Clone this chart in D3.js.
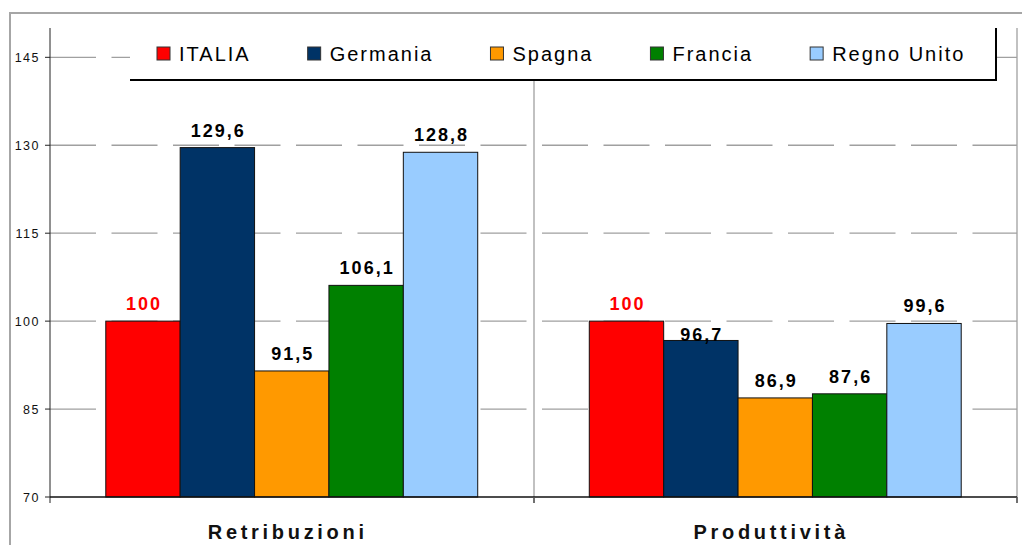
<!DOCTYPE html>
<html>
  <head>
    <meta charset="utf-8">
    <script src="https://d3js.org/d3.v7.min.js"></script>
    <style>
      body { margin: 0; background: #fff; }
      text { font-family: "Liberation Sans", Arial, sans-serif; }
    </style>
  </head>
  <body>
    <div id="chart"></div>
  <script>
    // Data
    var categories = ["Retribuzioni", "Produttività"];
    var series = ["ITALIA", "Germania", "Spagna", "Francia", "Regno Unito"];
    var colors = ["#ff0000", "#003366", "#ff9900", "#008000", "#99ccff"];
    var retribuzioni = [100, 129.6, 91.5, 106.1, 128.8];
    var produttivita = [100, 96.7, 86.9, 87.6, 99.6];
    var yTicks = [70, 85, 100, 115, 130, 145];

    var values = [retribuzioni, produttivita];

    var W = 1022, H = 545;
    var plot = {left: 50, right: 1017, top: 28, bottom: 497};

    var svg = d3.select("#chart")
                .append("svg")
                  .attr("width", W)
                  .attr("height", H);

    // outer frame
    svg.append("path")
       .attr("d", "M10," + H + "V13H" + W)
       .attr("fill", "none")
       .attr("stroke", "#a6a6a6")
       .attr("stroke-width", 2);

    var x0 = d3.scaleBand()
               .domain(categories)
               .range([plot.left, plot.right]);

    var x1 = d3.scaleBand()
               .domain(series)
               .range([0, x0.bandwidth()])
               .paddingInner(0)
               .paddingOuter(0.75);

    var y = d3.scaleLinear()
              .domain([70, 150])
              .range([plot.bottom, plot.top]);

    // horizontal dashed gridlines
    svg.append("g")
       .selectAll("line")
       .data(yTicks.slice(1))
       .enter()
       .append("line")
         .attr("x1", plot.left)
         .attr("x2", plot.right)
         .attr("y1", function(d) { return y(d); })
         .attr("y2", function(d) { return y(d); })
         .attr("stroke", "#a0a0a0")
         .attr("stroke-width", 1.3)
         .attr("stroke-dasharray", "46,15.5");

    // vertical category separators + right border
    svg.append("g")
       .selectAll("line")
       .data(categories)
       .enter()
       .append("line")
         .attr("x1", function(d) { return Math.round(x0(d) + x0.bandwidth()); })
         .attr("x2", function(d) { return Math.round(x0(d) + x0.bandwidth()); })
         .attr("y1", plot.top)
         .attr("y2", plot.bottom + 6)
         .attr("stroke", "#a0a0a0")
         .attr("stroke-width", 1.3);

    // bars
    var groups = svg.append("g")
                    .selectAll("g")
                    .data(categories)
                    .enter()
                    .append("g")
                      .attr("transform", function(d) { return "translate(" + x0(d) + ",0)"; });

    groups.selectAll("rect")
          .data(function(d, i) {
            return series.map(function(s, j) { return {cat: d, key: s, value: values[i][j], color: colors[j]}; });
          })
          .enter()
          .append("rect")
            .attr("x", function(d) { return x1(d.key); })
            .attr("width", x1.bandwidth())
            .attr("y", function(d) { return y(d.value); })
            .attr("height", function(d) { return y(70) - y(d.value); })
            .attr("fill", function(d) { return d.color; })
            .attr("stroke", "#111")
            .attr("stroke-width", 1);

    // value labels (the Germania one in Produttività sits lower in the original)
    var labelShift = {"Produttività|Germania": 12};
    groups.selectAll("text")
          .data(function(d, i) {
            return series.map(function(s, j) { return {cat: d, key: s, value: values[i][j]}; });
          })
          .enter()
          .append("text")
            .attr("x", function(d) { return x1(d.key) + x1.bandwidth() / 2 + 1; })
            .attr("y", function(d) { return y(d.value) - 11 + (labelShift[d.cat + "|" + d.key] || 0); })
            .attr("text-anchor", "middle")
            .style("font-size", "18px")
            .style("font-weight", "bold")
            .style("letter-spacing", "2px")
            .attr("fill", function(d) { return d.key === "ITALIA" ? "#ff0000" : "#000"; })
            .text(function(d) { return String(d.value).replace(".", ","); });

    // y axis
    var yAxis = svg.append("g");
    yAxis.append("line")
         .attr("x1", plot.left).attr("x2", plot.left)
         .attr("y1", plot.top).attr("y2", plot.bottom + 6)
         .attr("stroke", "#222").attr("stroke-width", 1);
    yAxis.selectAll(".tick")
         .data(yTicks)
         .enter()
         .append("line")
           .attr("x1", plot.left - 5).attr("x2", plot.left)
           .attr("y1", function(d) { return y(d); })
           .attr("y2", function(d) { return y(d); })
           .attr("stroke", "#222");
    yAxis.selectAll("text")
         .data(yTicks)
         .enter()
         .append("text")
           .attr("x", 40)
           .attr("y", function(d) { return y(d) + 4.5; })
           .attr("text-anchor", "end")
           .style("font-size", "12.5px")
           .style("letter-spacing", "1.5px")
           .attr("fill", "#111")
           .text(function(d) { return d; });

    // x axis
    svg.append("line")
       .attr("x1", plot.left).attr("x2", plot.right)
       .attr("y1", plot.bottom).attr("y2", plot.bottom)
       .attr("stroke", "#111").attr("stroke-width", 1.5);
    svg.selectAll(".xtick")
       .data(categories)
       .enter()
       .append("line")
         .attr("x1", function(d) { return Math.round(x0(d) + x0.bandwidth()); })
         .attr("x2", function(d) { return Math.round(x0(d) + x0.bandwidth()); })
         .attr("y1", plot.bottom).attr("y2", plot.bottom + 6)
         .attr("stroke", "#555").attr("stroke-width", 1.5);

    svg.selectAll(".catlabel")
       .data(categories)
       .enter()
       .append("text")
         .attr("x", function(d) { return x0(d) + x0.bandwidth() / 2 - 4; })
         .attr("y", 539)
         .attr("text-anchor", "middle")
         .style("font-size", "20px")
         .style("font-weight", "bold")
         .style("letter-spacing", "3.7px")
         .attr("fill", "#111")
         .text(function(d) { return d; });

    // legend
    var legend = svg.append("g");
    legend.append("rect")
          .attr("x", 130).attr("y", plot.top)
          .attr("width", 865).attr("height", 52)
          .attr("fill", "#fff");
    legend.append("path")
          .attr("d", "M130,80H996V" + plot.top)
          .attr("fill", "none")
          .attr("stroke", "#000")
          .attr("stroke-width", 2);

    var lx = 157;
    series.forEach(function(s, i) {
      legend.append("rect")
            .attr("x", lx).attr("y", 47)
            .attr("width", 13).attr("height", 13)
            .attr("fill", colors[i])
            .attr("stroke", "#333")
            .attr("stroke-width", 1);
      var t = legend.append("text")
                    .attr("x", lx + 22)
                    .attr("y", 61)
                    .style("font-size", "20px")
                    .style("letter-spacing", "2px")
                    .attr("fill", "#000")
                    .text(s);
      lx = lx + 22 + t.node().getComputedTextLength() + 57;
    });
  </script>
  </body>
</html>
